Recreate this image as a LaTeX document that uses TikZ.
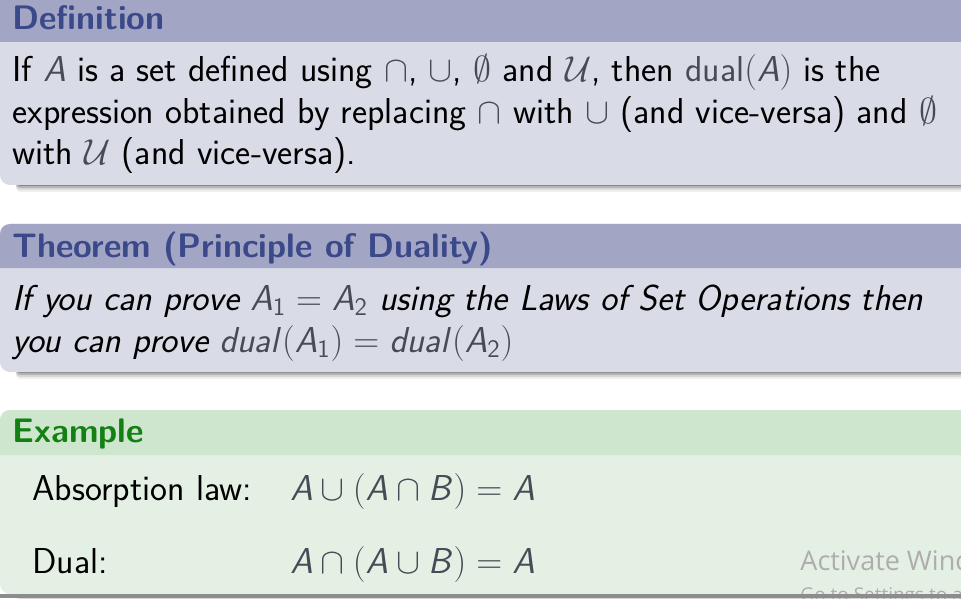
\RequirePackage{fix-cm}
\documentclass[tikz,border=0pt]{standalone}
\usepackage{fontspec}
\newfontfamily\wmfont{Open Sans}
\definecolor{titleblue}{RGB}{59,73,138}
\definecolor{headblue}{RGB}{162,166,196}
\definecolor{bodyblue}{RGB}{217,219,231}
\definecolor{titlegreen}{RGB}{18,128,18}
\definecolor{headgreen}{RGB}{206,229,206}
\definecolor{bodygreen}{RGB}{229,240,229}
\definecolor{mathgray}{RGB}{70,76,86}
\DeclareMathAlphabet{\mathsfit}{OT1}{cmss}{m}{sl}
\newcommand{\bodyfont}{\sffamily\fontsize{18}{21}\selectfont}
\newcommand{\titlefont}{\sffamily\bfseries\fontsize{17}{20}\selectfont}
\newcommand{\mth}[1]{\textcolor{mathgray}{$#1$}}
\usetikzlibrary{positioning}
\tikzstyle{blocktitle}=[anchor=base west, inner sep=0pt, font=\titlefont]
\tikzstyle{bodyline}=[anchor=base west, inner sep=0pt, font=\bodyfont]
\tikzstyle{watermark}=[anchor=base west, inner sep=0pt, text=black!32]

\begin{document}
\begin{tikzpicture}[x=0.5pt, y=-0.5pt]
	\useasboundingbox (0,0) rectangle (961,598);
	\clip (0,0) rectangle (961,598);

	% shadows
	\foreach \top/\bot in {170/185, 357/372, 580/594}
		\foreach \d/\o in {1/0.26, 3/0.16, 5/0.10, 7/0.06}
			\fill[black, opacity=\o, rounded corners=2pt] (16,\top) rectangle (1010,\bot+\d);

	% definition
	\fill[bodyblue, rounded corners=5pt] (0,-10) rectangle (1010,185);
	\fill[headblue] (0,42) [rounded corners=5pt] -- (0,-10) -- (1010,-10) [sharp corners] -- (1010,42) -- cycle;
	\node[blocktitle, text=titleblue] (deftitle) at (12,30) {Definition};
	\node[bodyline] (def1) at (12,82) {If \mth{\mathsfit{A}} is a set defined using \mth{\cap}, \mth{\cup}, \mth{\emptyset} and \mth{\mathcal{U}}, then \mth{\mathsf{dual}(\mathsfit{A})} is the};
	\node[bodyline] (def2) at (12,124) {expression obtained by replacing \mth{\cap} with \mth{\cup} (and vice-versa) and \mth{\emptyset}};
	\node[bodyline] (def3) at (12,165) {with \mth{\mathcal{U}} (and vice-versa).};

	% theorem
	\fill[bodyblue, rounded corners=5pt] (0,224) rectangle (1010,372);
	\fill[headblue] (0,268) [rounded corners=5pt] -- (0,224) -- (1010,224) [sharp corners] -- (1010,268) -- cycle;
	\node[blocktitle, text=titleblue] (thmtitle) at (12,257) {Theorem (Principle of Duality)};
	\node[bodyline, font=\bodyfont\itshape] (thm1) at (12,310) {If you can prove \mth{\mathsfit{A}_{\mathsf{1}}=\mathsfit{A}_{\mathsf{2}}} using the Laws of Set Operations then};
	\node[bodyline, font=\bodyfont\itshape] (thm2) at (12,352) {you can prove \mth{\mathsfit{dual}(\mathsfit{A}_{\mathsf{1}})=\mathsfit{dual}(\mathsfit{A}_{\mathsf{2}})}};

	% example
	\fill[bodygreen, rounded corners=5pt] (0,410) rectangle (1010,594);
	\fill[headgreen] (0,455) [rounded corners=5pt] -- (0,410) -- (1010,410) [sharp corners] -- (1010,455) -- cycle;
	\node[blocktitle, text=titlegreen] (extitle) at (12,442) {Example};
	\node[bodyline] (law) at (32,500) {Absorption law:};
	\node[bodyline] (lawexpr) at (290,500) {\mth{\mathsfit{A}\cup(\mathsfit{A}\cap\mathsfit{B})=\mathsfit{A}}};
	\node[bodyline] (dual) at (32,573) {Dual:};
	\node[bodyline] (dualexpr) at (290,573) {\mth{\mathsfit{A}\cap(\mathsfit{A}\cup\mathsfit{B})=\mathsfit{A}}};

	\node[watermark, font=\wmfont\fontsize{13.5}{15}\selectfont] (wm1) at (800,570) {Activate Windows};
	\node[watermark, font=\wmfont\fontsize{9.5}{11}\selectfont] (wm2) at (800,601) {Go to Settings to activate Windows.};
	\fill[black!45] (0,594) rectangle (1010,598);
\end{tikzpicture}
\end{document}
